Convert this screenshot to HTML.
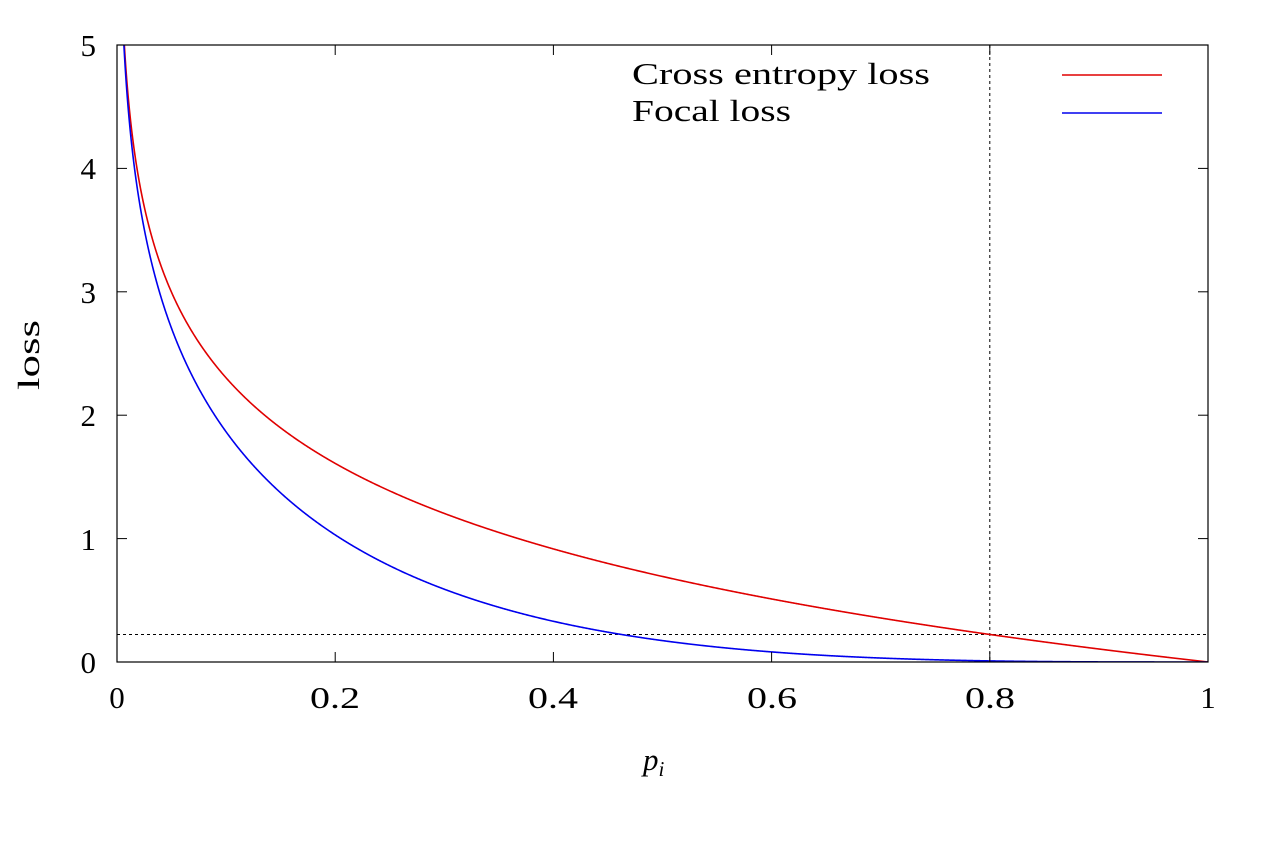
<!DOCTYPE html>
<html><head><style>
body{margin:0;background:#fff;}
svg text{font-family:"Liberation Serif",serif;fill:#000;}
</style></head><body>
<svg id="s" width="1274" height="850" xmlns="http://www.w3.org/2000/svg">
<defs><clipPath id="c"><rect x="117" y="45" width="1091" height="617"/></clipPath></defs>
<line x1="117" y1="634.5" x2="1208" y2="634.5" stroke="#000" stroke-width="1" stroke-dasharray="3,3"/>
<line x1="989.8" y1="45" x2="989.8" y2="662" stroke="#000" stroke-width="1" stroke-dasharray="3,3"/>
<g clip-path="url(#c)">
<path id="ce" fill="none" stroke="#e00000" stroke-width="1.6"/>
<path id="fl" fill="none" stroke="#0000ee" stroke-width="1.6"/>
</g>
<rect x="117" y="45" width="1091" height="617" fill="none" stroke="#000" stroke-width="1.2"/>
<g id="ticks" stroke="#000" stroke-width="1"></g>
<g font-size="31">
<text x="96" y="673" text-anchor="end">0</text>
<text x="96" y="550" text-anchor="end">1</text>
<text x="96" y="426" text-anchor="end">2</text>
<text x="96" y="303" text-anchor="end">3</text>
<text x="96" y="179" text-anchor="end">4</text>
<text x="96" y="56" text-anchor="end">5</text>
<text x="117" y="708" text-anchor="middle">0</text>
<text x="310" y="708" textLength="50" lengthAdjust="spacingAndGlyphs">0.2</text>
<text x="528" y="708" textLength="50" lengthAdjust="spacingAndGlyphs">0.4</text>
<text x="747" y="708" textLength="50" lengthAdjust="spacingAndGlyphs">0.6</text>
<text x="965" y="708" textLength="50" lengthAdjust="spacingAndGlyphs">0.8</text>
<text x="1208" y="708" text-anchor="middle">1</text>
<text transform="translate(39,390) rotate(-90)" textLength="70" lengthAdjust="spacingAndGlyphs">loss</text>
<text x="643" y="770" font-style="italic">p<tspan font-size="21" dy="6">i</tspan></text>
<text x="632" y="84" textLength="298" lengthAdjust="spacingAndGlyphs">Cross entropy loss</text>
<text x="632" y="121" textLength="159" lengthAdjust="spacingAndGlyphs">Focal loss</text>
</g>
<line x1="1062" y1="75" x2="1162" y2="75" stroke="#e00000" stroke-width="1.6"/>
<line x1="1062" y1="113" x2="1162" y2="113" stroke="#0000ee" stroke-width="1.6"/>
</svg>
<script>
var X=function(p){return 117+p*1091},Y=function(v){return 662-v*123.4};
var a="",b="";
for(var i=0;i<=2000;i++){var p=0.002+i*(0.998/2000);var ce=-Math.log(p),fl=(1-p)*(1-p)*ce;
a+=(i?"L":"M")+X(p).toFixed(2)+","+Y(Math.min(ce,6)).toFixed(2);
b+=(i?"L":"M")+X(p).toFixed(2)+","+Y(Math.min(fl,6)).toFixed(2);}
document.getElementById("ce").setAttribute("d",a);
document.getElementById("fl").setAttribute("d",b);
var t="";
for(var k=0;k<=5;k++){var x=X(k*0.2);t+='<line x1="'+x+'" y1="662" x2="'+x+'" y2="652"/><line x1="'+x+'" y1="45" x2="'+x+'" y2="55"/>';
var y=Y(k);t+='<line x1="117" y1="'+y+'" x2="127" y2="'+y+'"/><line x1="1208" y1="'+y+'" x2="1198" y2="'+y+'"/>';}
document.getElementById("ticks").innerHTML=t;
</script>
</body></html>
